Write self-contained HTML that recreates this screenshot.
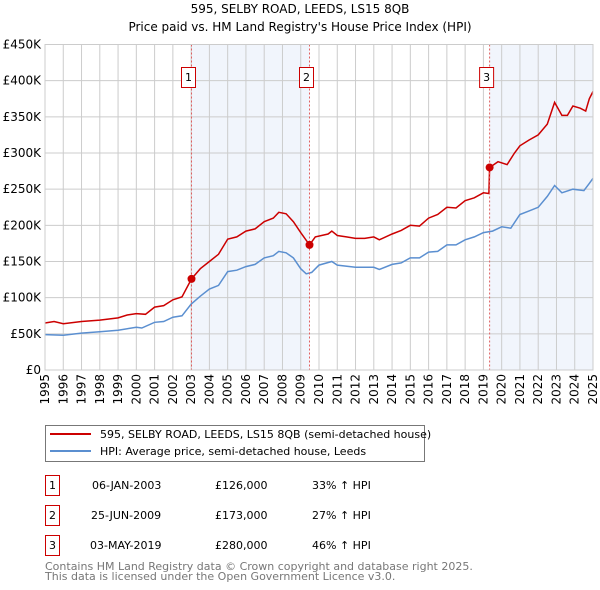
<!DOCTYPE html>
<html><head><meta charset="utf-8"><style>
body{margin:0;background:#fff}
svg{display:block;font-family:"DejaVu Sans","Liberation Sans",sans-serif}
</style></head><body>
<svg id="chart" width="600" height="590" viewBox="0 0 600 590">
<text x="300" y="13" text-anchor="middle" font-size="12">595, SELBY ROAD, LEEDS, LS15 8QB</text>
<text x="300" y="31" text-anchor="middle" font-size="12">Price paid vs. HM Land Registry's House Price Index (HPI)</text>
<g id="shade"></g><g id="grid"></g><g id="series"></g><g id="marks"></g>
<rect x="45" y="44.5" width="548" height="325.5" fill="none" stroke="#ccc"/>
<g>
<rect x="45.5" y="425.5" width="379" height="36" fill="#fff" stroke="#777"/>
<line x1="50" y1="434" x2="91" y2="434" stroke="#cc0000" stroke-width="2"/>
<text x="100" y="438" font-size="11">595, SELBY ROAD, LEEDS, LS15 8QB (semi-detached house)</text>
<line x1="50" y1="451" x2="91" y2="451" stroke="#5b8fd0" stroke-width="2"/>
<text x="100" y="455" font-size="11">HPI: Average price, semi-detached house, Leeds</text>
</g>
<g font-size="11">
<g><rect x="45.5" y="475.5" width="14" height="20" fill="none" stroke="#cc0000"/><text x="52.5" y="489" text-anchor="middle">1</text><text x="92" y="489">06-JAN-2003</text><text x="215" y="489">£126,000</text><text x="312" y="489">33% ↑ HPI</text></g>
<g><rect x="45.5" y="505.5" width="14" height="20" fill="none" stroke="#cc0000"/><text x="52.5" y="519" text-anchor="middle">2</text><text x="91" y="519">25-JUN-2009</text><text x="215" y="519">£173,000</text><text x="312" y="519">27% ↑ HPI</text></g>
<g><rect x="45.5" y="535.5" width="14" height="20" fill="none" stroke="#cc0000"/><text x="52.5" y="549" text-anchor="middle">3</text><text x="90" y="549">03-MAY-2019</text><text x="215" y="549">£280,000</text><text x="312" y="549">46% ↑ HPI</text></g>
</g>
<text x="45" y="570" font-size="11" fill="#777">Contains HM Land Registry data © Crown copyright and database right 2025.</text>
<text x="45" y="580" font-size="11" fill="#777">This data is licensed under the Open Government Licence v3.0.</text>
</svg>
<script>
const yTicks=[0,50,100,150,200,250,300,350,400,450];
const yTickLabels=["£0","£50K","£100K","£150K","£200K","£250K","£300K","£350K","£400K","£450K"];
const years=[1995,1996,1997,1998,1999,2000,2001,2002,2003,2004,2005,2006,2007,2008,2009,2010,2011,2012,2013,2014,2015,2016,2017,2018,2019,2020,2021,2022,2023,2024,2025];
const redT=[1995,1995.5,1996,1997,1998,1999,1999.5,2000,2000.5,2001,2001.5,2002,2002.5,2003.02,2003.5,2004,2004.5,2005,2005.5,2006,2006.5,2007,2007.5,2007.8,2008.2,2008.6,2009,2009.48,2009.8,2010.5,2010.7,2011,2011.5,2012,2012.5,2013,2013.3,2014,2014.5,2015,2015.5,2016,2016.5,2017,2017.5,2018,2018.5,2019,2019.3,2019.34,2019.8,2020.3,2020.7,2021,2021.5,2022,2022.5,2022.9,2023.3,2023.6,2023.9,2024.3,2024.6,2024.8,2025];
const redV=[65,67,64,67,69,72,76,78,77,87,89,97,101,126,140,150,160,181,184,192,195,205,210,218,216,205,190,173,184,188,192,186,184,182,182,184,180,188,193,200,199,210,215,225,224,234,238,245,244,280,288,284,300,310,318,325,340,370,352,352,365,362,358,375,385];
const blueT=[1995,1996,1997,1998,1999,2000,2000.3,2001,2001.5,2002,2002.5,2003,2003.5,2004,2004.5,2005,2005.5,2006,2006.5,2007,2007.5,2007.8,2008.2,2008.6,2009,2009.3,2009.6,2010,2010.7,2011,2012,2013,2013.3,2014,2014.5,2015,2015.5,2016,2016.5,2017,2017.5,2018,2018.5,2019,2019.5,2020,2020.5,2021,2021.5,2022,2022.5,2022.9,2023.3,2023.9,2024.5,2024.8,2025];
const blueV=[49,48,51,53,55,59,58,66,67,73,75,91,102,112,117,136,138,143,146,155,158,164,162,155,140,133,135,145,150,145,142,142,139,146,148,155,155,163,164,173,173,180,184,190,192,198,196,215,220,225,240,255,245,250,248,258,265];
const saleT=[2003.02,2009.48,2019.34];
const saleV=[126,173,280];
const saleLabels=["1","2","3"];
const NS="http://www.w3.org/2000/svg";
const X=t=>45+(t-1995)*(548/30);
const Y=v=>370-v*(325.5/450);
function mk(tag,attrs,parent){const e=document.createElementNS(NS,tag);for(const k in attrs)e.setAttribute(k,attrs[k]);document.getElementById(parent).appendChild(e);return e;}
let s1=mk('rect',{x:X(saleT[0]),y:44.5,width:X(saleT[1])-X(saleT[0]),height:325.5,fill:'#eef2fb',opacity:0.8},'shade');


let s2=mk('rect',{x:X(saleT[2]),y:44.5,width:593-X(saleT[2]),height:325.5,fill:'#eef2fb',opacity:0.8},'shade');


yTicks.forEach((v,i)=>{
 let l=mk('line',{x1:45,x2:593,y1:Y(v),y2:Y(v),stroke:'#ccc'},'grid');
 
 
 let t=mk('text',{x:41,y:Y(v)+4,'text-anchor':'end','font-size':12},'grid');t.textContent=yTickLabels[i];
 
 
});
years.forEach(yr=>{
 let l=mk('line',{x1:X(yr),x2:X(yr),y1:44.5,y2:370,stroke:'#ccc'},'grid');
 
 
 let t=mk('text',{x:0,y:0,'font-size':12,transform:`translate(${X(yr)+4},374) rotate(-90)`,'text-anchor':'end'},'grid');t.textContent=yr;
 
 
});
function path(T,V){return T.map((t,i)=>(i?'L':'M')+X(t).toFixed(1)+','+Y(V[i]).toFixed(1)).join('');}
let pb=mk('path',{d:path(blueT,blueV),fill:'none',stroke:'#5b8fd0','stroke-width':1.5},'series');


let pr=mk('path',{d:path(redT,redV),fill:'none',stroke:'#cc0000','stroke-width':1.5},'series');


saleT.forEach((t,i)=>{
 let l=mk('line',{x1:X(t),x2:X(t),y1:44.5,y2:370,stroke:'#e06060','stroke-dasharray':'2,2'},'marks');
 
 
 let r=mk('rect',{x:X(t)-10,y:67.5,width:14,height:20,fill:'#fff',stroke:'#cc0000'},'marks');
 
 
 let tx=mk('text',{x:X(t)-3,y:81,'text-anchor':'middle','font-size':11},'marks');tx.textContent=saleLabels[i];
 
 
 let c=mk('circle',{cx:X(t),cy:Y(saleV[i]),r:4,fill:'#cc0000'},'marks');
 
 
});
</script>
</body></html>
